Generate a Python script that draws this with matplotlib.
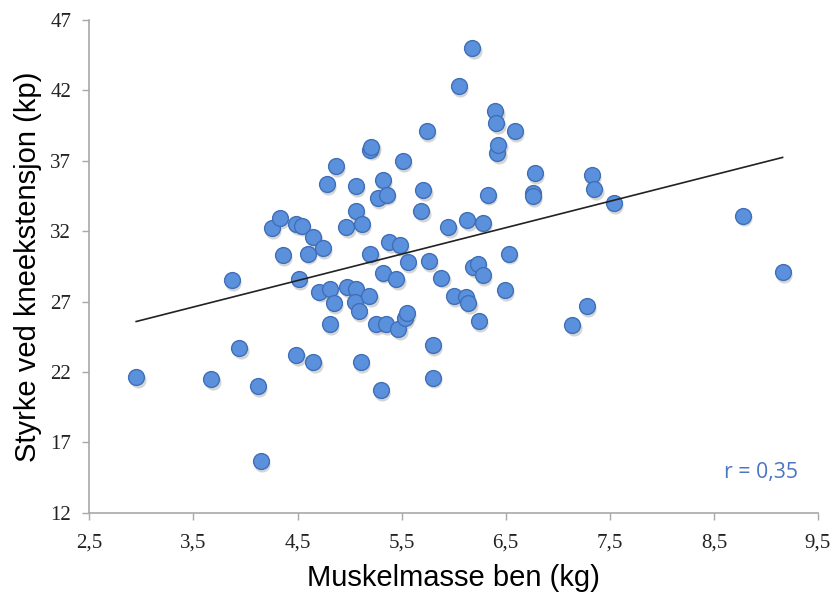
import numpy as np
import matplotlib
matplotlib.use('Agg')
import matplotlib.pyplot as plt
from matplotlib.transforms import offset_copy

# muskelmasse ben (kg) and styrke ved kneekstensjon (kp)
muskelmasse = [2.95, 3.67, 3.87, 3.94, 4.12, 4.15, 4.25, 4.33, 4.36, 4.49,
               4.49, 4.54, 4.51, 4.60, 4.65, 4.65, 4.71, 4.74, 4.78, 4.81,
               4.81, 4.85, 4.87, 4.97, 4.98, 5.06, 5.05, 5.06, 5.06, 5.09,
               5.11, 5.12, 5.19, 5.20, 5.20, 5.21, 5.25, 5.27, 5.30, 5.32,
               5.32, 5.35, 5.36, 5.38, 5.45, 5.47, 5.48, 5.51, 5.53, 5.55,
               5.56, 5.69, 5.71, 5.74, 5.76, 5.80, 5.80, 5.88, 5.95, 6.00,
               6.05, 6.12, 6.13, 6.14, 6.18, 6.19, 6.23, 6.24, 6.28, 6.28,
               6.33, 6.40, 6.41, 6.42, 6.43, 6.49, 6.53, 6.59, 6.76, 6.76,
               6.78, 7.14, 7.28, 7.33, 7.35, 7.54, 8.78, 9.16]
styrke = [21.65, 21.5, 28.5, 23.7, 21.0, 15.65, 32.2, 32.9, 30.3, 23.2,
          32.5, 32.4, 28.6, 30.4, 22.7, 31.6, 27.7, 30.8, 35.35, 25.4,
          27.9, 26.9, 36.6, 32.3, 28.0, 27.9, 27.0, 35.2, 33.4, 26.3,
          22.7, 32.5, 27.4, 30.35, 37.8, 38.0, 25.4, 34.35, 20.7, 35.6,
          29.05, 25.4, 34.6, 31.2, 28.6, 25.05, 31.0, 37.0, 25.8, 26.2,
          29.8, 33.4, 34.9, 39.1, 29.85, 23.9, 21.6, 28.7, 32.3, 27.4,
          42.3, 27.3, 32.8, 26.9, 45.0, 29.45, 29.7, 25.6, 32.6, 28.9,
          34.6, 40.5, 39.7, 37.55, 38.15, 27.8, 30.4, 39.1, 34.7, 34.5,
          36.1, 25.3, 26.7, 36.0, 35.0, 34.0, 33.1, 29.1]

x_ticks = [2.5, 3.5, 4.5, 5.5, 6.5, 7.5, 8.5, 9.5]
y_ticks = [12, 17, 22, 27, 32, 37, 42, 47]

x = np.array(muskelmasse)
y = np.array(styrke)

fig = plt.figure(figsize=(8.35, 5.93), dpi=100)
ax = fig.add_axes([0.107, 0.1354, 0.8726, 0.8309])

# shadow under the markers
shadow = offset_copy(ax.transData, fig=fig, x=1.0, y=-2.0, units='points')
ax.scatter(x, y, s=135, color='#888888', alpha=0.35, linewidths=0,
           transform=shadow, zorder=2)
ax.scatter(x, y, s=130, facecolor='#5b91dc', edgecolor='#3f6fb8',
           linewidths=1.0, zorder=3)

# linear trendline over the data range
k, m = np.polyfit(x, y, 1)
xl = np.array([x.min(), x.max()])
ax.plot(xl, k * xl + m, color='#222222', lw=1.2, zorder=4)

ax.set_xlim(2.5, 9.5)
ax.set_ylim(12, 47)
ax.set_xticks(x_ticks)
ax.set_xticklabels([str(t).replace('.', ',') for t in x_ticks])
ax.set_yticks(y_ticks)

for s in ['top', 'right']:
    ax.spines[s].set_visible(False)
for s in ['left', 'bottom']:
    ax.spines[s].set_color('#a8a8a8')
    ax.spines[s].set_linewidth(1.2)
ax.tick_params(direction='out', length=5, width=1.0, color='#a8a8a8',
               labelsize=15, labelcolor='#222222')
ax.tick_params(axis='x', pad=10)
ax.tick_params(axis='y', pad=8)
for lab in ax.get_xticklabels() + ax.get_yticklabels():
    lab.set_fontfamily('Liberation Serif')

ax.set_xlabel('Muskelmasse ben (kg)', fontsize=21, family='Liberation Sans',
              labelpad=8)
ax.set_ylabel('Styrke ved kneekstensjon (kp)', fontsize=21,
              family='Liberation Sans', labelpad=6)

ax.text(8.6, 14.45, 'r = 0,35', fontsize=15.3, color='#4a74c4',
        family='Open Sans', va='baseline')

fig.savefig('out.png', dpi=100)
